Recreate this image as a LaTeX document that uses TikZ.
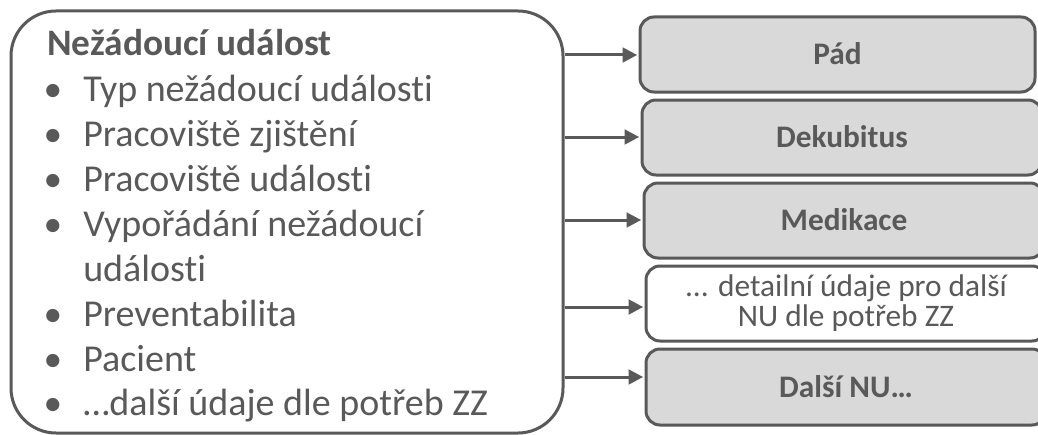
\documentclass[tikz,border=0pt]{standalone}
\usepackage{fontspec}
\setmainfont{Carlito}[Ligatures=NoCommon]
\usetikzlibrary{arrows.meta}
\definecolor{ink}{HTML}{595959}
\definecolor{boxfill}{HTML}{D9D9D9}
\tikzset{
  mainbox/.style={draw=ink, line width=2.25pt, rounded corners=33.75pt,
    minimum width=414pt, minimum height=316.5pt, inner sep=0pt},
  catbox/.style={draw=ink, fill=boxfill, line width=2.25pt, rounded corners=10.5pt,
    minimum height=56.25pt, inner sep=0pt, text=ink,
    font=\fontsize{23.5}{26}\selectfont\bfseries, text height=15pt, text depth=0pt},
  notebox/.style={draw=ink, fill=white, line width=2.25pt, rounded corners=10.5pt,
    minimum height=56.25pt, inner sep=0pt, text=ink, align=center,
    font=\fontsize{23.5}{22.5}\selectfont},
  listline/.style={anchor=base west, inner sep=0pt, text=ink,
    font=\fontsize{28.5}{30}\selectfont},
  bullet/.style={anchor=base, inner sep=0pt, text=ink,
    font=\fontsize{28}{30}\selectfont},
  arr/.style={draw=ink, line width=2.25pt,
    -{Triangle[length=11pt,width=11pt]}, shorten >=1pt},
}
\begin{document}
\begin{tikzpicture}[x=0.75pt,y=-0.75pt]
\path[use as bounding box] (0,0) rectangle (1038,435);
\clip (0,0) rectangle (1038,435);

% left panel with the event record
\node[mainbox] (ev) at (287,222) {};

\node[listline, font=\fontsize{28}{30}\selectfont\bfseries] (title) at (47,56) {Nežádoucí událost};

\node[bullet] (b1) at (53,101) {•};
\node[listline] (t1) at (83,101) {Typ nežádoucí události};
\node[bullet] (b2) at (53,146) {•};
\node[listline] (t2) at (83,146) {Pracoviště zjištění};
\node[bullet] (b3) at (53,191) {•};
\node[listline] (t3) at (83,191) {Pracoviště události};
\node[bullet] (b4) at (53,236) {•};
\node[listline] (t4) at (83,236) {Vypořádání nežádoucí};
\node[listline] (t4b) at (83,281) {události};
\node[bullet] (b5) at (53,326) {•};
\node[listline] (t5) at (83,326) {Preventabilita};
\node[bullet] (b6) at (53,371) {•};
\node[listline] (t6) at (83,371) {Pacient};
\node[bullet] (b7) at (53,415) {•};
\node[listline] (t7) at (83,415) {…další údaje dle potřeb ZZ};

% detail boxes on the right
\node[catbox, minimum width=296.25pt] (pad) at (837.5,54.5) {Pád};
\node[catbox, minimum width=300pt] (dek) at (842,137.5) {Dekubitus};
\node[catbox, minimum width=300pt] (med) at (844,220.5) {Medikace};
\node[notebox, minimum width=300pt] (det) at (846,303.5) {... detailní údaje pro další\\NU dle potřeb ZZ};
\node[catbox, minimum width=300pt, minimum height=57pt] (dal) at (846,387) {Další NU…};

% connectors
\draw[arr] (ev.east |- 0,55) -- (pad.west |- 0,55);
\draw[arr] (ev.east |- 0,137) -- (dek.west |- 0,137);
\draw[arr] (ev.east |- 0,220) -- (med.west |- 0,220);
\draw[arr] (ev.east |- 0,307) -- (det.west |- 0,307);
\draw[arr] (ev.east |- 0,377) -- (dal.west |- 0,377);
\end{tikzpicture}
\end{document}
